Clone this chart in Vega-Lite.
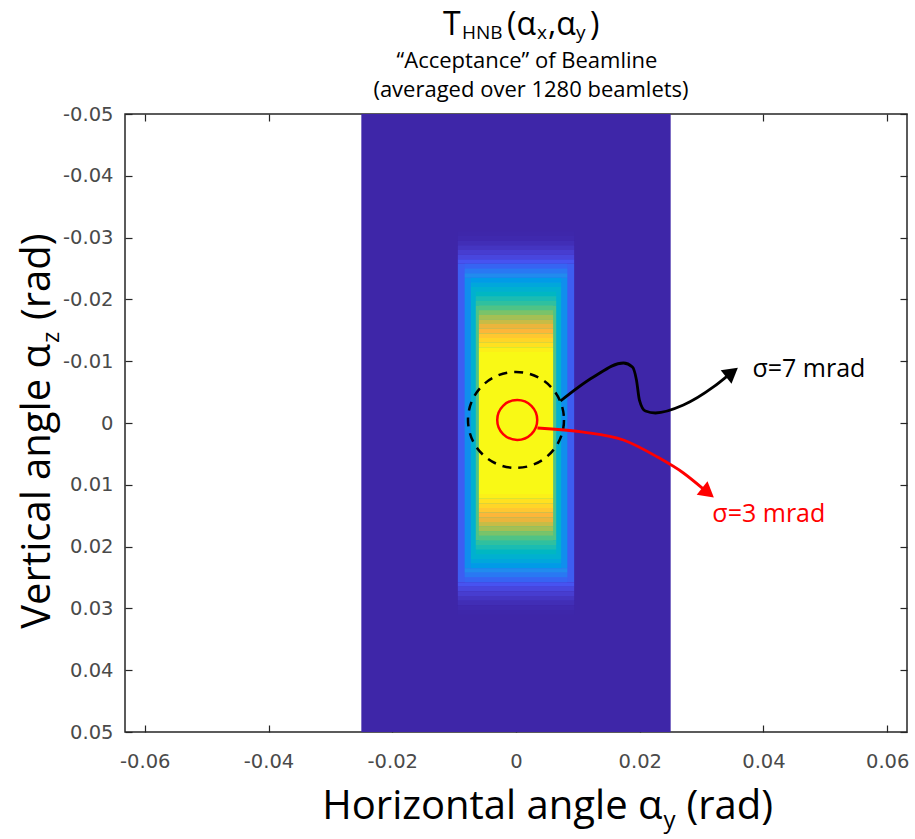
{
  "$schema": "https://vega.github.io/schema/vega-lite/v6.json",
  "width": 782,
  "height": 618,
  "autosize": "none",
  "padding": {"left": 125, "top": 114, "right": 8, "bottom": 107},
  "background": "white",
  "data": {"values": [{}]},
  "config": {
    "view": {"stroke": "#262626", "strokeWidth": 1.5},
    "axis": {"domain": false, "grid": false, "tickColor": "#262626", "tickSize": -7, "tickWidth": 1.2, "labelFont": "DejaVu Sans", "labelFontSize": 19.5, "labelColor": "#4a4a4a"},
    "text": {"font": "Open Sans", "color": "black"}
  },
  "resolve": {"axis": {"x": "independent", "y": "independent"}},
  "layer": [
    {
      "data": {"values": [
        {"x0": -0.025, "x1": 0.025, "y0": -0.05, "y1": 0.05, "v": 0},
        {"x0": -0.0094, "x1": 0.0094, "y0": -0.031, "y1": -0.03025, "v": 0.003},
        {"x0": -0.0094, "x1": 0.0094, "y0": -0.03025, "y1": -0.0295, "v": 0.01},
        {"x0": -0.0094, "x1": 0.0094, "y0": -0.0295, "y1": -0.02875, "v": 0.025},
        {"x0": -0.0094, "x1": 0.0094, "y0": -0.02875, "y1": -0.028, "v": 0.045},
        {"x0": -0.0094, "x1": 0.0094, "y0": -0.028, "y1": -0.02725, "v": 0.07},
        {"x0": -0.0094, "x1": 0.0094, "y0": -0.02725, "y1": -0.0265, "v": 0.095},
        {"x0": -0.0094, "x1": 0.0094, "y0": -0.0265, "y1": -0.02575, "v": 0.13},
        {"x0": -0.0094, "x1": 0.0094, "y0": -0.02575, "y1": 0.02575, "v": 0.15},
        {"x0": -0.0094, "x1": 0.0094, "y0": 0.02575, "y1": 0.0265, "v": 0.13},
        {"x0": -0.0094, "x1": 0.0094, "y0": 0.0265, "y1": 0.02725, "v": 0.095},
        {"x0": -0.0094, "x1": 0.0094, "y0": 0.02725, "y1": 0.028, "v": 0.07},
        {"x0": -0.0094, "x1": 0.0094, "y0": 0.028, "y1": 0.02875, "v": 0.045},
        {"x0": -0.0094, "x1": 0.0094, "y0": 0.02875, "y1": 0.0295, "v": 0.025},
        {"x0": -0.0094, "x1": 0.0094, "y0": 0.0295, "y1": 0.03025, "v": 0.01},
        {"x0": -0.0094, "x1": 0.0094, "y0": 0.03025, "y1": 0.031, "v": 0.003},
        {"x0": -0.0083, "x1": 0.0083, "y0": -0.02575, "y1": -0.025, "v": 0.165},
        {"x0": -0.0083, "x1": 0.0083, "y0": -0.025, "y1": -0.02425, "v": 0.21},
        {"x0": -0.0083, "x1": 0.0083, "y0": -0.02425, "y1": -0.0235, "v": 0.26},
        {"x0": -0.0083, "x1": 0.0083, "y0": -0.0235, "y1": 0.0235, "v": 0.27},
        {"x0": -0.0083, "x1": 0.0083, "y0": 0.0235, "y1": 0.02425, "v": 0.26},
        {"x0": -0.0083, "x1": 0.0083, "y0": 0.02425, "y1": 0.025, "v": 0.21},
        {"x0": -0.0083, "x1": 0.0083, "y0": 0.025, "y1": 0.02575, "v": 0.165},
        {"x0": -0.0073, "x1": 0.0073, "y0": -0.0235, "y1": -0.02275, "v": 0.31},
        {"x0": -0.0073, "x1": 0.0073, "y0": -0.02275, "y1": -0.022, "v": 0.355},
        {"x0": -0.0073, "x1": 0.0073, "y0": -0.022, "y1": 0.022, "v": 0.4},
        {"x0": -0.0073, "x1": 0.0073, "y0": 0.022, "y1": 0.02275, "v": 0.355},
        {"x0": -0.0073, "x1": 0.0073, "y0": 0.02275, "y1": 0.0235, "v": 0.31},
        {"x0": -0.0065, "x1": 0.0065, "y0": -0.02125, "y1": -0.0205, "v": 0.45},
        {"x0": -0.0065, "x1": 0.0065, "y0": -0.0205, "y1": -0.01975, "v": 0.495},
        {"x0": -0.0065, "x1": 0.0065, "y0": -0.01975, "y1": -0.019, "v": 0.545},
        {"x0": -0.0065, "x1": 0.0065, "y0": -0.019, "y1": 0.019, "v": 0.6},
        {"x0": -0.0065, "x1": 0.0065, "y0": 0.019, "y1": 0.01975, "v": 0.545},
        {"x0": -0.0065, "x1": 0.0065, "y0": 0.01975, "y1": 0.0205, "v": 0.495},
        {"x0": -0.0065, "x1": 0.0065, "y0": 0.0205, "y1": 0.02125, "v": 0.45},
        {"x0": -0.006, "x1": 0.006, "y0": -0.019, "y1": -0.01825, "v": 0.6},
        {"x0": -0.006, "x1": 0.006, "y0": -0.01825, "y1": -0.0175, "v": 0.66},
        {"x0": -0.006, "x1": 0.006, "y0": -0.0175, "y1": -0.01675, "v": 0.72},
        {"x0": -0.006, "x1": 0.006, "y0": -0.01675, "y1": -0.016, "v": 0.78},
        {"x0": -0.006, "x1": 0.006, "y0": -0.016, "y1": -0.01525, "v": 0.845},
        {"x0": -0.006, "x1": 0.006, "y0": -0.01525, "y1": -0.0145, "v": 0.885},
        {"x0": -0.006, "x1": 0.006, "y0": -0.0145, "y1": -0.01375, "v": 0.915},
        {"x0": -0.006, "x1": 0.006, "y0": -0.01375, "y1": -0.013, "v": 0.94},
        {"x0": -0.006, "x1": 0.006, "y0": -0.013, "y1": -0.01225, "v": 0.96},
        {"x0": -0.006, "x1": 0.006, "y0": -0.01225, "y1": -0.0115, "v": 0.985},
        {"x0": -0.006, "x1": 0.006, "y0": -0.0115, "y1": 0.0115, "v": 1},
        {"x0": -0.006, "x1": 0.006, "y0": 0.0115, "y1": 0.01225, "v": 0.985},
        {"x0": -0.006, "x1": 0.006, "y0": 0.01225, "y1": 0.013, "v": 0.96},
        {"x0": -0.006, "x1": 0.006, "y0": 0.013, "y1": 0.01375, "v": 0.94},
        {"x0": -0.006, "x1": 0.006, "y0": 0.01375, "y1": 0.0145, "v": 0.915},
        {"x0": -0.006, "x1": 0.006, "y0": 0.0145, "y1": 0.01525, "v": 0.885},
        {"x0": -0.006, "x1": 0.006, "y0": 0.01525, "y1": 0.016, "v": 0.845},
        {"x0": -0.006, "x1": 0.006, "y0": 0.016, "y1": 0.01675, "v": 0.78},
        {"x0": -0.006, "x1": 0.006, "y0": 0.01675, "y1": 0.0175, "v": 0.72},
        {"x0": -0.006, "x1": 0.006, "y0": 0.0175, "y1": 0.01825, "v": 0.66},
        {"x0": -0.006, "x1": 0.006, "y0": 0.01825, "y1": 0.019, "v": 0.6}
      ]},
      "mark": {"type": "rect", "strokeWidth": 0},
      "encoding": {
        "x": {"field": "x0", "type": "quantitative", "scale": {"domain": [-0.0632, 0.0632], "nice": false, "zero": false},
              "axis": {"orient": "bottom", "title": null, "values": [-0.06, -0.04, -0.02, 0, 0.02, 0.04, 0.06], "labelPadding": 27,
                       "labelExpr": "datum.value == 0 ? '0' : (datum.value < 0 ? '-' : '') + format(abs(datum.value), '.2f')"}},
        "x2": {"field": "x1"},
        "y": {"field": "y0", "type": "quantitative", "scale": {"domain": [-0.05, 0.05], "reverse": true, "nice": false, "zero": false},
              "axis": {"orient": "left", "title": null, "values": [-0.05, -0.04, -0.03, -0.02, -0.01, 0, 0.01, 0.02, 0.03, 0.04, 0.05], "labelPadding": 19,
                       "labelExpr": "datum.value == 0 ? '0' : (datum.value < 0 ? '-' : '') + format(abs(datum.value), '.2f')"}},
        "y2": {"field": "y1"},
        "color": {"field": "v", "type": "quantitative", "legend": null,
                  "scale": {"domain": [0, 0.125, 0.25, 0.375, 0.5, 0.625, 0.75, 0.875, 1],
                            "range": ["#3e26a8", "#4a50f0", "#2e87ef", "#17acd6", "#1fbcb0", "#5fc47a", "#b8bd4e", "#fcb13c", "#f9f915"]}}
      }
    },
    {
      "data": {"values": [{"x": 0, "y": -0.0005, "sigma": 7}]},
      "mark": {"type": "point", "shape": "circle", "size": 9216, "filled": false, "stroke": "black", "strokeWidth": 2.5, "strokeDash": [9, 7], "opacity": 1},
      "encoding": {
        "x": {"field": "x", "type": "quantitative", "scale": {"domain": [-0.0632, 0.0632], "nice": false, "zero": false},
              "axis": {"orient": "top", "title": null, "labels": false, "values": [-0.06, -0.04, -0.02, 0, 0.02, 0.04, 0.06]}},
        "y": {"field": "y", "type": "quantitative", "scale": {"domain": [-0.05, 0.05], "reverse": true, "nice": false, "zero": false},
              "axis": {"orient": "right", "title": null, "labels": false, "values": [-0.05, -0.04, -0.03, -0.02, -0.01, 0, 0.01, 0.02, 0.03, 0.04, 0.05]}}
      }
    },
    {
      "data": {"values": [{"x": 0.0002, "y": -0.0005, "sigma": 3}]},
      "mark": {"type": "point", "shape": "circle", "size": 1600, "filled": false, "stroke": "#ff0000", "strokeWidth": 2.5, "opacity": 1},
      "encoding": {
        "x": {"field": "x", "type": "quantitative", "scale": {"domain": [-0.0632, 0.0632], "nice": false, "zero": false}, "axis": null},
        "y": {"field": "y", "type": "quantitative", "scale": {"domain": [-0.05, 0.05], "reverse": true, "nice": false, "zero": false}, "axis": null}
      }
    },
    {
      "data": {"values": [
        {"i": 0, "x": 0.00719, "y": -0.00356},
        {"i": 1, "x": 0.01252, "y": -0.00744},
        {"i": 2, "x": 0.01737, "y": -0.00971},
        {"i": 3, "x": 0.01882, "y": -0.00906},
        {"i": 4, "x": 0.01947, "y": -0.00696},
        {"i": 5, "x": 0.01995, "y": -0.00372},
        {"i": 6, "x": 0.02092, "y": -0.00194},
        {"i": 7, "x": 0.02254, "y": -0.00162},
        {"i": 8, "x": 0.02706, "y": -0.00291},
        {"i": 9, "x": 0.03191, "y": -0.00583},
        {"i": 10, "x": 0.03404, "y": -0.00751}
      ]},
      "mark": {"type": "line", "color": "black", "strokeWidth": 2.8, "interpolate": "monotone"},
      "encoding": {
        "x": {"field": "x", "type": "quantitative", "scale": {"domain": [-0.0632, 0.0632], "nice": false, "zero": false}, "axis": null},
        "y": {"field": "y", "type": "quantitative", "scale": {"domain": [-0.05, 0.05], "reverse": true, "nice": false, "zero": false}, "axis": null},
        "order": {"field": "i", "type": "quantitative"}
      }
    },
    {
      "data": {"values": [
        {"i": 0, "x": 0.00347, "y": 0.00081},
        {"i": 1, "x": 0.0109, "y": 0.00146},
        {"i": 2, "x": 0.01737, "y": 0.00275},
        {"i": 3, "x": 0.02286, "y": 0.0055},
        {"i": 4, "x": 0.02706, "y": 0.00809},
        {"i": 5, "x": 0.03016, "y": 0.01058}
      ]},
      "mark": {"type": "line", "color": "#ff0000", "strokeWidth": 2.8, "interpolate": "monotone"},
      "encoding": {
        "x": {"field": "x", "type": "quantitative", "scale": {"domain": [-0.0632, 0.0632], "nice": false, "zero": false}, "axis": null},
        "y": {"field": "y", "type": "quantitative", "scale": {"domain": [-0.05, 0.05], "reverse": true, "nice": false, "zero": false}, "axis": null},
        "order": {"field": "i", "type": "quantitative"}
      }
    },
    {
      "data": {"values": [{"x": 0.03491, "y": -0.0082}]},
      "mark": {"type": "point", "shape": "triangle-up", "size": 300, "filled": true, "color": "black", "opacity": 1, "angle": 51.5},
      "encoding": {
        "x": {"field": "x", "type": "quantitative", "scale": {"domain": [-0.0632, 0.0632], "nice": false, "zero": false}, "axis": null},
        "y": {"field": "y", "type": "quantitative", "scale": {"domain": [-0.05, 0.05], "reverse": true, "nice": false, "zero": false}, "axis": null}
      }
    },
    {
      "data": {"values": [{"x": 0.03103, "y": 0.01128}]},
      "mark": {"type": "point", "shape": "triangle-up", "size": 300, "filled": true, "color": "#ff0000", "opacity": 1, "angle": 128.5},
      "encoding": {
        "x": {"field": "x", "type": "quantitative", "scale": {"domain": [-0.0632, 0.0632], "nice": false, "zero": false}, "axis": null},
        "y": {"field": "y", "type": "quantitative", "scale": {"domain": [-0.05, 0.05], "reverse": true, "nice": false, "zero": false}, "axis": null}
      }
    },
    {
      "mark": {"type": "text", "text": "σ=7 mrad", "fontSize": 25, "align": "left", "baseline": "middle", "color": "black"},
      "encoding": {
        "x": {"datum": 0.03821, "type": "quantitative", "scale": {"domain": [-0.0632, 0.0632], "nice": false, "zero": false}, "axis": null},
        "y": {"datum": -0.00874, "type": "quantitative", "scale": {"domain": [-0.05, 0.05], "reverse": true, "nice": false, "zero": false}, "axis": null}
      }
    },
    {
      "mark": {"type": "text", "text": "σ=3 mrad", "fontSize": 25, "align": "left", "baseline": "middle", "color": "#ff0000"},
      "encoding": {
        "x": {"datum": 0.03174, "type": "quantitative", "scale": {"domain": [-0.0632, 0.0632], "nice": false, "zero": false}, "axis": null},
        "y": {"datum": 0.01472, "type": "quantitative", "scale": {"domain": [-0.05, 0.05], "reverse": true, "nice": false, "zero": false}, "axis": null}
      }
    },
    {
      "encoding": {
        "x": {"datum": 0, "type": "quantitative", "scale": {"domain": [-0.0632, 0.0632], "nice": false, "zero": false}, "axis": null},
        "y": {"datum": -0.06286, "type": "quantitative", "scale": {"domain": [-0.05, 0.05], "reverse": true, "nice": false, "zero": false}, "axis": null}
      },
      "layer": [
        {"mark": {"type": "text", "text": "T", "fontSize": 32, "align": "left", "baseline": "alphabetic", "dx": -73}},
        {"mark": {"type": "text", "text": "HNB", "fontSize": 19, "align": "left", "baseline": "alphabetic", "dx": -54, "dy": 4}},
        {"mark": {"type": "text", "text": "(α", "fontSize": 32, "align": "left", "baseline": "alphabetic", "dx": -9}},
        {"mark": {"type": "text", "text": "x", "fontSize": 19, "align": "left", "baseline": "alphabetic", "dx": 21, "dy": 4}},
        {"mark": {"type": "text", "text": ",α", "fontSize": 32, "align": "left", "baseline": "alphabetic", "dx": 32}},
        {"mark": {"type": "text", "text": "y", "fontSize": 19, "align": "left", "baseline": "alphabetic", "dx": 60, "dy": 4}},
        {"mark": {"type": "text", "text": ")", "fontSize": 32, "align": "left", "baseline": "alphabetic", "dx": 74}}
      ]
    },
    {
      "mark": {"type": "text", "text": "“Acceptance” of Beamline", "fontSize": 22, "align": "center", "baseline": "alphabetic", "dx": 11},
      "encoding": {
        "x": {"datum": 0, "type": "quantitative", "scale": {"domain": [-0.0632, 0.0632], "nice": false, "zero": false}, "axis": null},
        "y": {"datum": -0.0574, "type": "quantitative", "scale": {"domain": [-0.05, 0.05], "reverse": true, "nice": false, "zero": false}, "axis": null}
      }
    },
    {
      "mark": {"type": "text", "text": "(averaged over 1280 beamlets)", "fontSize": 22, "align": "center", "baseline": "alphabetic", "dx": 15},
      "encoding": {
        "x": {"datum": 0, "type": "quantitative", "scale": {"domain": [-0.0632, 0.0632], "nice": false, "zero": false}, "axis": null},
        "y": {"datum": -0.0528, "type": "quantitative", "scale": {"domain": [-0.05, 0.05], "reverse": true, "nice": false, "zero": false}, "axis": null}
      }
    },
    {
      "encoding": {
        "x": {"datum": 0.02367, "type": "quantitative", "scale": {"domain": [-0.0632, 0.0632], "nice": false, "zero": false}, "axis": null},
        "y": {"datum": 0.06401, "type": "quantitative", "scale": {"domain": [-0.05, 0.05], "reverse": true, "nice": false, "zero": false}, "axis": null}
      },
      "layer": [
        {"mark": {"type": "text", "text": "Horizontal angle α", "fontSize": 40, "align": "right", "baseline": "alphabetic"}},
        {"mark": {"type": "text", "text": "y", "fontSize": 24, "align": "left", "baseline": "alphabetic", "dx": 1, "dy": 9}},
        {"mark": {"type": "text", "text": "(rad)", "fontSize": 40, "align": "left", "baseline": "alphabetic", "dx": 24}}
      ]
    },
    {
      "encoding": {
        "x": {"datum": -0.07536, "type": "quantitative", "scale": {"domain": [-0.0632, 0.0632], "nice": false, "zero": false}, "axis": null},
        "y": {"datum": -0.01278, "type": "quantitative", "scale": {"domain": [-0.05, 0.05], "reverse": true, "nice": false, "zero": false}, "axis": null}
      },
      "layer": [
        {"mark": {"type": "text", "text": "Vertical angle α", "fontSize": 40, "align": "right", "baseline": "alphabetic", "angle": 270}},
        {"mark": {"type": "text", "text": "z", "fontSize": 24, "align": "left", "baseline": "alphabetic", "angle": 270, "dx": 1, "dy": 9}},
        {"mark": {"type": "text", "text": "(rad)", "fontSize": 40, "align": "left", "baseline": "alphabetic", "angle": 270, "dx": 24}}
      ]
    }
  ]
}
